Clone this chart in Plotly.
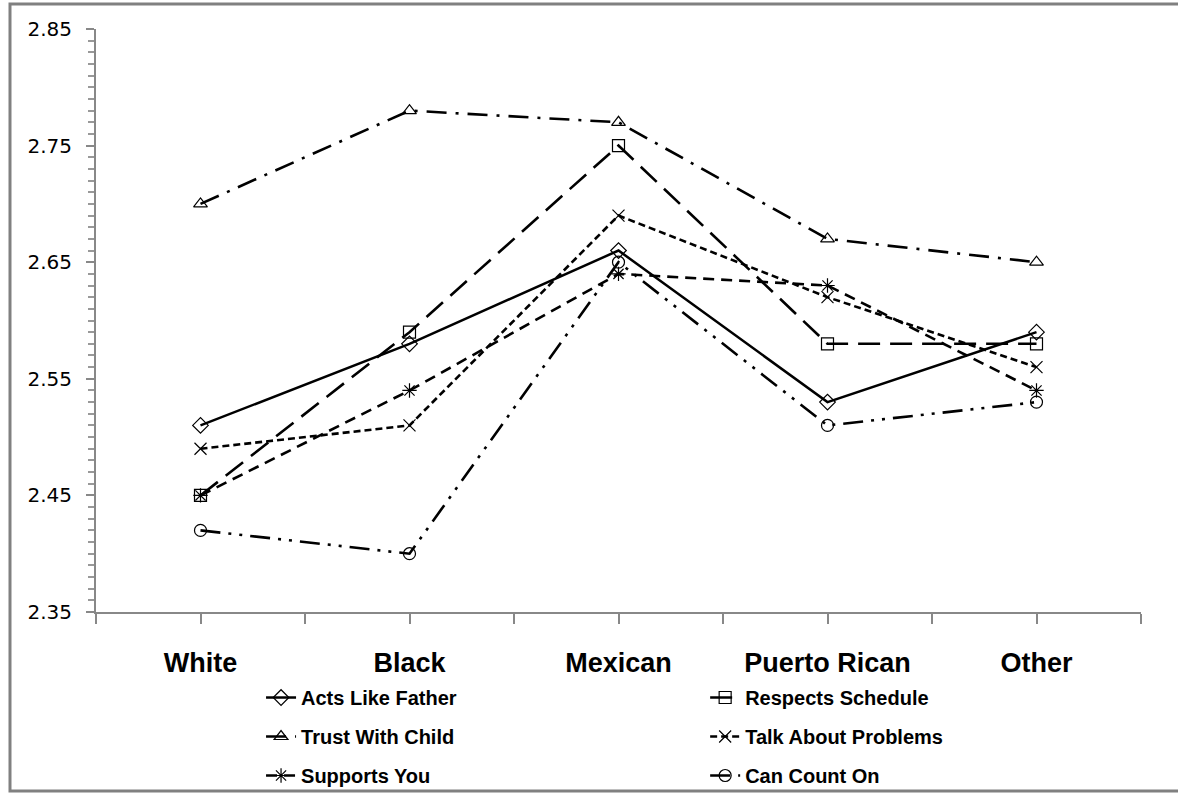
import plotly.graph_objects as go

# Ratings by ethnic group
categories = ["White", "Black", "Mexican", "Puerto Rican", "Other"]

acts_like_father = [2.51, 2.58, 2.66, 2.53, 2.59]
respects_schedule = [2.45, 2.59, 2.75, 2.58, 2.58]
trust_with_child = [2.70, 2.78, 2.77, 2.67, 2.65]
talk_about_problems = [2.49, 2.51, 2.69, 2.62, 2.56]
supports_you = [2.45, 2.54, 2.64, 2.63, 2.54]
can_count_on = [2.42, 2.40, 2.65, 2.51, 2.53]

y_ticks = [2.35, 2.45, 2.55, 2.65, 2.75, 2.85]

x_pos = list(range(len(categories)))

series = [
    # name, values, dash, marker symbol, line width, legend
    ("Acts Like Father", acts_like_father, "solid", "diamond-open", 2.5, "legend"),
    ("Trust With Child", trust_with_child, "20px,9px,3px,9px", "triangle-up-open", 2.6, "legend"),
    ("Supports You", supports_you, "11px,7px", "asterisk-open", 2.6, "legend"),
    ("Respects Schedule", respects_schedule, "22px,10px", "square-open", 2.6, "legend2"),
    ("Talk About Problems", talk_about_problems, "7px,4px", "x-thin-open", 2.6, "legend2"),
    ("Can Count On", can_count_on, "20px,8px,3px,8px,3px,8px", "circle-open", 2.6, "legend2"),
]

fig = go.Figure()
for name, vals, dash, symbol, lw, leg in series:
    fig.add_trace(go.Scatter(
        x=x_pos, y=vals, name=name, mode="lines+markers",
        line=dict(color="black", width=lw, dash=dash),
        marker=dict(symbol=symbol, size=12, color="black",
                    line=dict(color="black", width=1.2)),
        legend=leg, legendgroup=name,
    ))

legend_font = dict(family="Liberation Sans", size=20, color="black", weight="bold")

# Outer frame: top, left and bottom edges (right edge runs off the page)
frame_left, frame_right, frame_bottom, frame_top = -0.0823, 1.2, -0.307, 1.0429
frame_path = (f"M {frame_right},{frame_top} L {frame_left},{frame_top} "
              f"L {frame_left},{frame_bottom} L {frame_right},{frame_bottom}")

fig.update_layout(
    width=1178, height=793,
    margin=dict(l=96, r=37, t=29, b=181, autoexpand=False),
    paper_bgcolor="white", plot_bgcolor="white",
    showlegend=True,
    legend=dict(xref="container", yref="container", x=0.2216, y=0.145,
                xanchor="left", yanchor="top",
                orientation="v", traceorder="grouped", tracegroupgap=10,
                font=legend_font, bgcolor="rgba(0,0,0,0)"),
    legend2=dict(xref="container", yref="container", x=0.5986, y=0.145,
                 xanchor="left", yanchor="top",
                 orientation="v", traceorder="grouped", tracegroupgap=10,
                 font=legend_font, bgcolor="rgba(0,0,0,0)"),
    xaxis=dict(
        range=[-0.5, len(categories) - 0.5],
        tickmode="array", tickvals=x_pos, ticktext=categories,
        ticks="outside", ticklen=10, tickwidth=2, tickcolor="#888888",
        minor=dict(tickmode="linear", tick0=-0.5, dtick=1, ticks="outside",
                   ticklen=10, tickwidth=2, tickcolor="#888888"),
        showline=True, linecolor="#888888", linewidth=2,
        showgrid=False, zeroline=False,
        ticklabelstandoff=16,
        tickfont=dict(family="Liberation Sans", size=27, color="black", weight="bold"),
    ),
    yaxis=dict(
        range=[2.35, 2.85],
        tickmode="array", tickvals=y_ticks, tickformat=".2f",
        ticks="outside", ticklen=8, tickwidth=2, tickcolor="#888888",
        minor=dict(tickmode="linear", tick0=2.35, dtick=0.01, ticks="outside",
                   ticklen=6, tickwidth=2, tickcolor="#999999"),
        showline=True, linecolor="#888888", linewidth=2,
        showgrid=False, zeroline=False,
        ticklabelstandoff=10,
        tickfont=dict(family="DejaVu Sans", size=20, color="black"),
    ),
    shapes=[dict(type="path", xref="paper", yref="paper", path=frame_path,
                 line=dict(color="#808080", width=3), layer="below")],
)

fig.write_html("out.html")
